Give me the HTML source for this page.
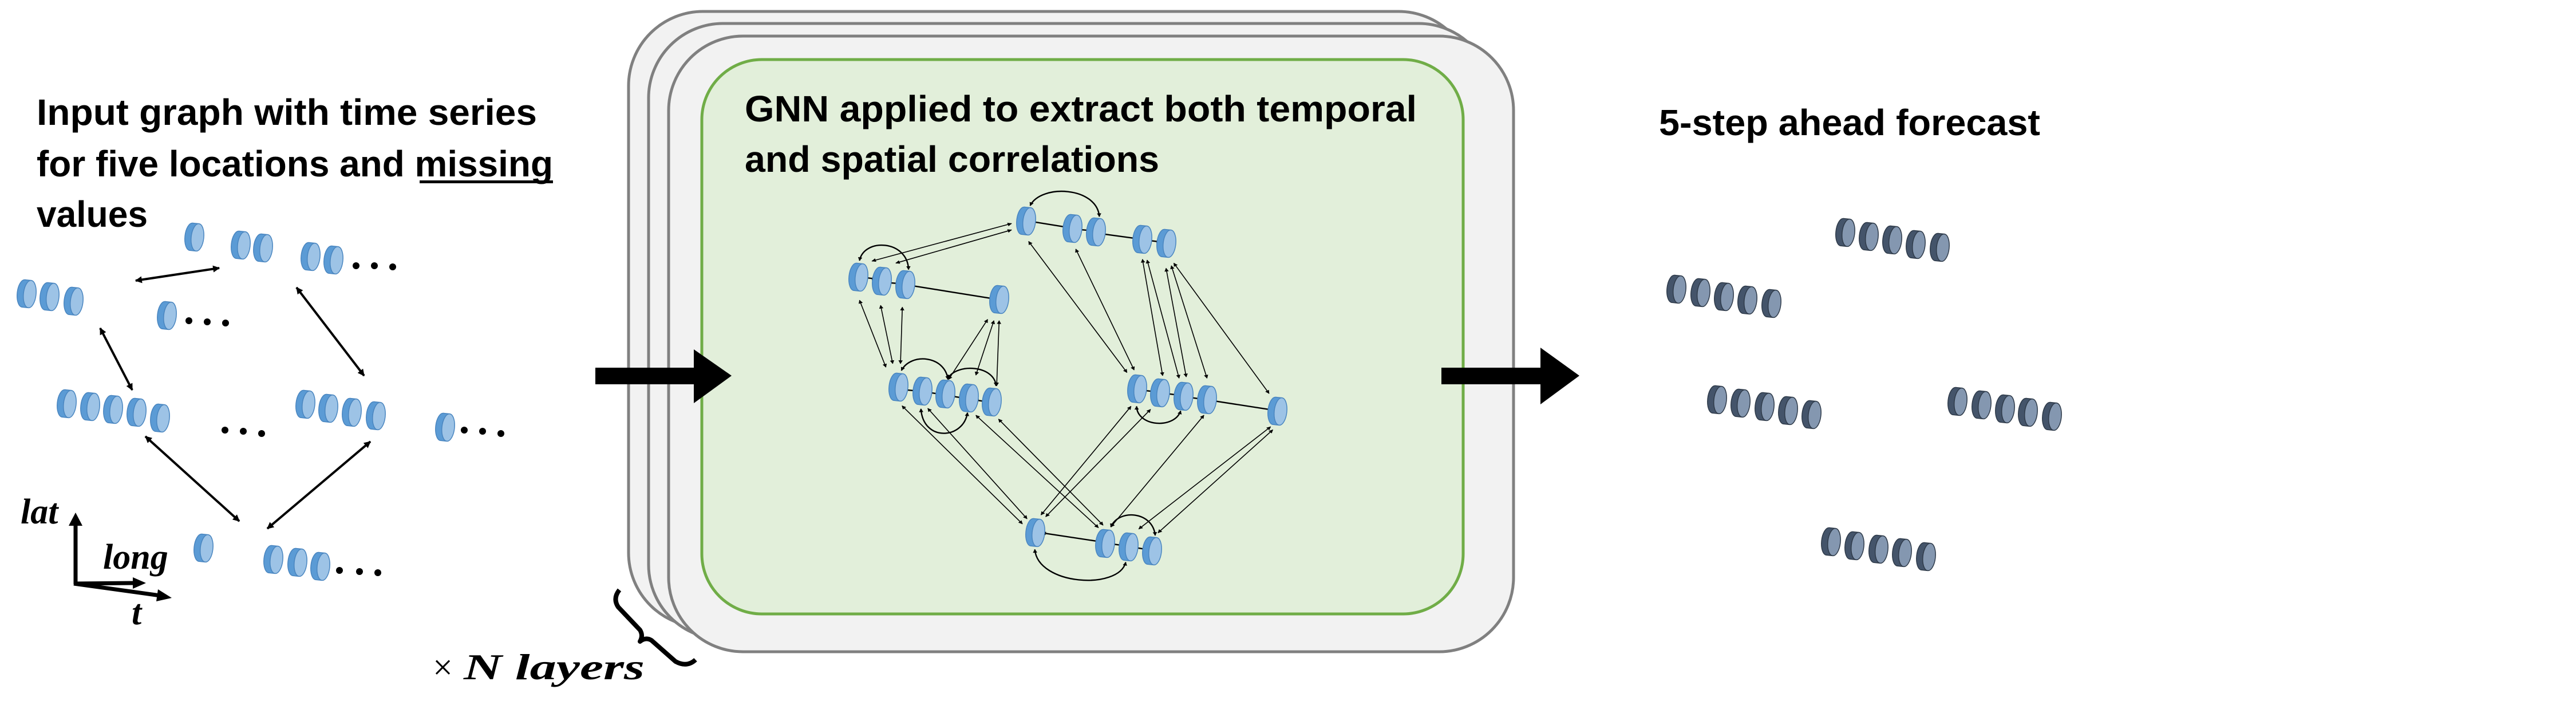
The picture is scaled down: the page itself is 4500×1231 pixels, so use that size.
<!DOCTYPE html>
<html><head><meta charset="utf-8"><style>
html,body{margin:0;padding:0;background:#fff;}
svg{display:block;}
.t{font-family:"Liberation Sans",sans-serif;font-weight:bold;fill:#000;}
.m{font-family:"Liberation Serif",serif;font-weight:bold;font-style:italic;fill:#000;}
</style></head><body>
<svg width="4500" height="1231" viewBox="0 0 4500 1231" xmlns="http://www.w3.org/2000/svg">
<defs>
<g id="cb"><g transform="rotate(6)">
<ellipse cx="-6" cy="0" rx="11" ry="24" fill="#5b9bd5" stroke="#4a86c0" stroke-width="1.5"/>
<rect x="-6" y="-24" width="11" height="48" fill="#5b9bd5"/>
<line x1="-6" y1="-24" x2="5" y2="-24" stroke="#4a86c0" stroke-width="1.5"/>
<line x1="-6" y1="24" x2="5" y2="24" stroke="#4a86c0" stroke-width="1.5"/>
<ellipse cx="5" cy="0" rx="11" ry="24" fill="#9dc3e6" stroke="#4a86c0" stroke-width="1.5"/>
</g></g>
<g id="cd"><g transform="rotate(6)">
<ellipse cx="-6" cy="0" rx="11" ry="24" fill="#44546a" stroke="#2f3b4a" stroke-width="1.5"/>
<rect x="-6" y="-24" width="11" height="48" fill="#44546a"/>
<line x1="-6" y1="-24" x2="5" y2="-24" stroke="#2f3b4a" stroke-width="1.5"/>
<line x1="-6" y1="24" x2="5" y2="24" stroke="#2f3b4a" stroke-width="1.5"/>
<ellipse cx="5" cy="0" rx="11" ry="24" fill="#8497b0" stroke="#2f3b4a" stroke-width="1.5"/>
</g></g>
<marker id="a1" viewBox="0 0 10 10" refX="9" refY="5" markerWidth="14" markerHeight="12" markerUnits="userSpaceOnUse" orient="auto-start-reverse"><path d="M0,0 L10,5 L0,10 z" fill="#000"/></marker>
<marker id="a2" viewBox="0 0 10 10" refX="9" refY="5" markerWidth="18" markerHeight="14" markerUnits="userSpaceOnUse" orient="auto-start-reverse"><path d="M0,0 L10,5 L0,10 z" fill="#000"/></marker>
</defs>

<text class="t" x="64" y="218" font-size="64" textLength="874" lengthAdjust="spacingAndGlyphs">Input graph with time series</text>
<text class="t" x="64" y="308" font-size="64" textLength="902" lengthAdjust="spacingAndGlyphs">for five locations and missing</text>
<rect x="733" y="315" width="233" height="5" fill="#000"/>
<text class="t" x="64" y="396" font-size="64" textLength="194" lengthAdjust="spacingAndGlyphs">values</text>

<g stroke="#000" stroke-width="4" marker-start="url(#a1)" marker-end="url(#a1)">
<line x1="237" y1="490" x2="383" y2="468"/>
<line x1="175" y1="573" x2="231" y2="681"/>
<line x1="518" y1="502" x2="636" y2="656"/>
<line x1="254" y1="762" x2="418" y2="910"/>
<line x1="647" y1="771" x2="467" y2="923"/>
</g>
<use href="#cb" x="340" y="414"/>
<use href="#cb" x="421" y="428"/><use href="#cb" x="460" y="433"/>
<use href="#cb" x="543" y="448"/><use href="#cb" x="583" y="454"/>
<use href="#cb" x="47" y="513"/><use href="#cb" x="87" y="518"/><use href="#cb" x="129" y="526"/>
<use href="#cb" x="292" y="551"/>
<use href="#cb" x="117" y="705"/><use href="#cb" x="158" y="710"/><use href="#cb" x="198" y="715"/><use href="#cb" x="239" y="720"/><use href="#cb" x="280" y="730"/>
<use href="#cb" x="534" y="706"/><use href="#cb" x="574" y="713"/><use href="#cb" x="615" y="720"/><use href="#cb" x="657" y="726"/>
<use href="#cb" x="778" y="746"/>
<use href="#cb" x="356" y="957"/>
<use href="#cb" x="478" y="977"/><use href="#cb" x="520" y="982"/><use href="#cb" x="560" y="989"/>
<g fill="#000">
<circle cx="622" cy="464" r="6"/><circle cx="654" cy="464" r="6"/><circle cx="686" cy="466" r="6"/>
<circle cx="330" cy="560" r="6"/><circle cx="362" cy="562" r="6"/><circle cx="394" cy="564" r="6"/>
<circle cx="393" cy="751" r="6"/><circle cx="425" cy="753" r="6"/><circle cx="457" cy="757" r="6"/>
<circle cx="811" cy="751" r="6"/><circle cx="843" cy="753" r="6"/><circle cx="875" cy="757" r="6"/>
<circle cx="593" cy="996" r="6"/><circle cx="628" cy="998" r="6"/><circle cx="660" cy="1000" r="6"/>
</g>

<g stroke="#000" stroke-width="7" fill="none">
<line x1="132" y1="1020" x2="132" y2="915"/>
<line x1="129" y1="1019" x2="236" y2="1018"/>
<line x1="129" y1="1019" x2="280" y2="1040"/>
</g>
<path d="M120,918 L132,895 L144,918 z" fill="#000"/>
<path d="M232,1008 L255,1018 L232,1028 z" fill="#000"/>
<path d="M276,1029 L300,1044 L273,1050 z" fill="#000"/>
<text class="m" x="36" y="914" font-size="62">lat</text>
<text class="m" x="180" y="993" font-size="62">long</text>
<text class="m" x="230" y="1090" font-size="62">t</text>
<text x="756" y="1186" font-size="62" font-family="Liberation Serif,serif">×</text>
<text class="m" x="810" y="1186" font-size="64" textLength="316" lengthAdjust="spacingAndGlyphs">N layers</text>
<path d="M1082,1030 Q1070,1045 1080,1060 L1118,1100 Q1124,1110 1118,1120 Q1128,1112 1138,1118 L1180,1155 Q1200,1166 1215,1152" fill="none" stroke="#000" stroke-width="8" stroke-linejoin="round"/>

<rect x="1098" y="20" width="1475" height="1075" rx="130" fill="#f2f2f2" stroke="#808080" stroke-width="5"/>
<rect x="1133" y="41" width="1475" height="1075" rx="130" fill="#f2f2f2" stroke="#808080" stroke-width="5"/>
<rect x="1168" y="63" width="1476" height="1075" rx="130" fill="#f2f2f2" stroke="#808080" stroke-width="5"/>
<rect x="1226" y="104" width="1330" height="968" rx="105" fill="#e2efda" stroke="#70ad47" stroke-width="5"/>
<text class="t" x="1301" y="212" font-size="64" textLength="1174" lengthAdjust="spacingAndGlyphs">GNN applied to extract both temporal</text>
<text class="t" x="1301" y="300" font-size="64" textLength="724" lengthAdjust="spacingAndGlyphs">and spatial correlations</text>

<rect x="1040" y="642" width="175" height="29" fill="#000"/>
<path d="M1212,610 L1278,656 L1212,704 z" fill="#000"/>
<rect x="2518" y="642" width="176" height="29" fill="#000"/>
<path d="M2691,607 L2759,656 L2691,706 z" fill="#000"/>

<g transform="translate(1450,330) scale(0.542,0.4464)" fill="none" stroke="#000">
<g stroke-width="1.6" marker-start="url(#a2)" marker-end="url(#a2)">
<line x1="585" y1="135" x2="135" y2="282" vector-effect="non-scaling-stroke"/>
<line x1="585" y1="160" x2="212" y2="290" vector-effect="non-scaling-stroke"/>
<line x1="95" y1="435" x2="180" y2="697" vector-effect="non-scaling-stroke"/>
<line x1="163" y1="455" x2="202" y2="683" vector-effect="non-scaling-stroke"/>
<line x1="233" y1="462" x2="227" y2="683" vector-effect="non-scaling-stroke"/>
<line x1="508" y1="510" x2="382" y2="745" vector-effect="non-scaling-stroke"/>
<line x1="528" y1="515" x2="470" y2="728" vector-effect="non-scaling-stroke"/>
<line x1="545" y1="515" x2="537" y2="770" vector-effect="non-scaling-stroke"/>
<line x1="640" y1="205" x2="957" y2="718" vector-effect="non-scaling-stroke"/>
<line x1="792" y1="235" x2="980" y2="708" vector-effect="non-scaling-stroke"/>
<line x1="1007" y1="275" x2="1072" y2="730" vector-effect="non-scaling-stroke"/>
<line x1="1022" y1="278" x2="1125" y2="740" vector-effect="non-scaling-stroke"/>
<line x1="1083" y1="310" x2="1148" y2="735" vector-effect="non-scaling-stroke"/>
<line x1="1100" y1="300" x2="1215" y2="740" vector-effect="non-scaling-stroke"/>
<line x1="1108" y1="290" x2="1415" y2="800" vector-effect="non-scaling-stroke"/>
<line x1="232" y1="848" x2="620" y2="1310" vector-effect="non-scaling-stroke"/>
<line x1="315" y1="858" x2="635" y2="1290" vector-effect="non-scaling-stroke"/>
<line x1="470" y1="885" x2="865" y2="1325" vector-effect="non-scaling-stroke"/>
<line x1="543" y1="900" x2="880" y2="1315" vector-effect="non-scaling-stroke"/>
<line x1="970" y1="850" x2="680" y2="1275" vector-effect="non-scaling-stroke"/>
<line x1="1033" y1="862" x2="695" y2="1282" vector-effect="non-scaling-stroke"/>
<line x1="1205" y1="885" x2="905" y2="1322" vector-effect="non-scaling-stroke"/>
<line x1="1420" y1="930" x2="995" y2="1330" vector-effect="non-scaling-stroke"/>
<line x1="1427" y1="942" x2="1057" y2="1345" vector-effect="non-scaling-stroke"/>
</g>
<g stroke-width="2.4" marker-start="url(#a2)" marker-end="url(#a2)">
<line x1="105" y1="345" x2="148" y2="352" vector-effect="non-scaling-stroke"/>
<line x1="182" y1="366" x2="225" y2="370" vector-effect="non-scaling-stroke"/>
<line x1="258" y1="377" x2="530" y2="430" vector-effect="non-scaling-stroke"/>
<line x1="648" y1="127" x2="765" y2="150" vector-effect="non-scaling-stroke"/>
<line x1="797" y1="158" x2="845" y2="163" vector-effect="non-scaling-stroke"/>
<line x1="873" y1="175" x2="995" y2="195" vector-effect="non-scaling-stroke"/>
<line x1="1020" y1="200" x2="1065" y2="207" vector-effect="non-scaling-stroke"/>
<line x1="238" y1="785" x2="282" y2="790" vector-effect="non-scaling-stroke"/>
<line x1="315" y1="795" x2="357" y2="803" vector-effect="non-scaling-stroke"/>
<line x1="390" y1="810" x2="432" y2="818" vector-effect="non-scaling-stroke"/>
<line x1="466" y1="825" x2="510" y2="833" vector-effect="non-scaling-stroke"/>
<line x1="1005" y1="787" x2="1048" y2="793" vector-effect="non-scaling-stroke"/>
<line x1="1081" y1="800" x2="1123" y2="806" vector-effect="non-scaling-stroke"/>
<line x1="1157" y1="815" x2="1200" y2="822" vector-effect="non-scaling-stroke"/>
<line x1="1232" y1="828" x2="1430" y2="865" vector-effect="non-scaling-stroke"/>
<line x1="683" y1="1345" x2="873" y2="1380" vector-effect="non-scaling-stroke"/>
<line x1="905" y1="1388" x2="948" y2="1395" vector-effect="non-scaling-stroke"/>
<line x1="980" y1="1402" x2="1022" y2="1410" vector-effect="non-scaling-stroke"/>
<path d="M95,280 C110,190 250,200 253,315" vector-effect="non-scaling-stroke"/>
<path d="M645,65 C680,-20 860,-10 868,108" vector-effect="non-scaling-stroke"/>
<path d="M230,710 C260,640 370,650 380,745" vector-effect="non-scaling-stroke"/>
<path d="M380,740 C410,680 530,690 535,770" vector-effect="non-scaling-stroke"/>
<path d="M293,860 C300,990 430,980 443,875" vector-effect="non-scaling-stroke"/>
<path d="M988,850 C990,930 1110,940 1130,868" vector-effect="non-scaling-stroke"/>
<path d="M660,1410 C670,1550 930,1570 953,1460" vector-effect="non-scaling-stroke"/>
<path d="M905,1322 C930,1250 1040,1260 1048,1355" vector-effect="non-scaling-stroke"/>
</g>
</g>

<use href="#cb" x="1793" y="386"/><use href="#cb" x="1874" y="399"/><use href="#cb" x="1915" y="405"/><use href="#cb" x="1996" y="418"/><use href="#cb" x="2038" y="425"/>
<use href="#cb" x="1500" y="484"/><use href="#cb" x="1541" y="491"/><use href="#cb" x="1582" y="497"/><use href="#cb" x="1746" y="523"/>
<use href="#cb" x="1570" y="676"/><use href="#cb" x="1612" y="683"/><use href="#cb" x="1652" y="688"/><use href="#cb" x="1693" y="695"/><use href="#cb" x="1733" y="702"/>
<use href="#cb" x="1987" y="679"/><use href="#cb" x="2027" y="686"/><use href="#cb" x="2068" y="692"/><use href="#cb" x="2109" y="698"/><use href="#cb" x="2232" y="718"/>
<use href="#cb" x="1809" y="930"/><use href="#cb" x="1931" y="949"/><use href="#cb" x="1972" y="955"/><use href="#cb" x="2013" y="962"/>

<text class="t" x="2898" y="236" font-size="64" textLength="666" lengthAdjust="spacingAndGlyphs">5-step ahead forecast</text>
<use href="#cd" x="3224" y="406"/><use href="#cd" x="3265" y="413"/><use href="#cd" x="3306" y="419"/><use href="#cd" x="3347" y="427"/><use href="#cd" x="3389" y="432"/>
<use href="#cd" x="2929" y="505"/><use href="#cd" x="2971" y="511"/><use href="#cd" x="3012" y="518"/><use href="#cd" x="3053" y="524"/><use href="#cd" x="3095" y="530"/>
<use href="#cd" x="3000" y="698"/><use href="#cd" x="3041" y="704"/><use href="#cd" x="3083" y="710"/><use href="#cd" x="3124" y="717"/><use href="#cd" x="3165" y="724"/>
<use href="#cd" x="3420" y="701"/><use href="#cd" x="3462" y="707"/><use href="#cd" x="3503" y="714"/><use href="#cd" x="3543" y="720"/><use href="#cd" x="3585" y="727"/>
<use href="#cd" x="3199" y="946"/><use href="#cd" x="3240" y="953"/><use href="#cd" x="3282" y="959"/><use href="#cd" x="3323" y="965"/><use href="#cd" x="3365" y="972"/>
</svg>
</body></html>
